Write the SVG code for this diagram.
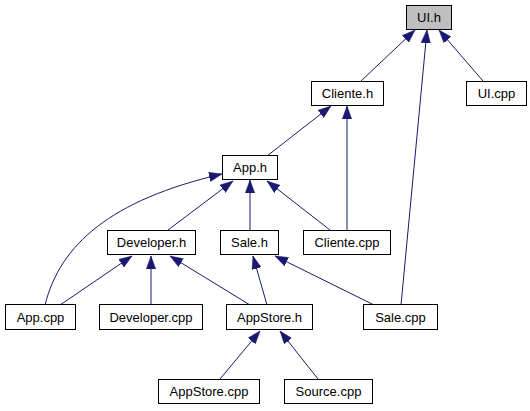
<svg xmlns="http://www.w3.org/2000/svg" width="530" height="411" viewBox="0 0 530 411">
<style>
.node rect{fill:#ffffff;stroke:#000000;stroke-width:1}
.node.hl rect{fill:#bfbfbf}
.node text{font-family:"Liberation Sans",Arial,sans-serif;font-size:13px;fill:#000000;text-anchor:middle}
.edges path{fill:none;stroke:#191970;stroke-width:1;marker-end:url(#arr)}
</style>
<defs>
<marker id="arr" markerUnits="userSpaceOnUse" markerWidth="14" markerHeight="10" viewBox="0 0 14 10" refX="13" refY="5" orient="auto">
<path d="M0,0.3 L13,5 L0,9.7 z" fill="#191970" stroke="#191970" stroke-width="0.5"/>
</marker>
</defs>
<rect width="530" height="411" fill="#ffffff"/>
<g class="edges">
<path d="M361,81 L415,30"/>
<path d="M483,81 L439,30"/>
<path d="M401,305 L427,30"/>
<path d="M267,156 L331,106"/>
<path d="M347,230 L347,106"/>
<path d="M168,230 L233,181"/>
<path d="M250,230 L250,180"/>
<path d="M330,230 L267,181"/>
<path d="M45,305 C60,245 110,200 222,174"/>
<path d="M60,305 L132,256"/>
<path d="M151,305 L151,256"/>
<path d="M250,305 L170,256"/>
<path d="M267,305 L253,256"/>
<path d="M374,305 L275,256"/>
<path d="M220,379 L260,331"/>
<path d="M318,379 L280,331"/>
</g>
<g id="node-ui-h" class="node hl"><rect x="406.5" y="5.5" width="45" height="24"/><text x="429" y="22">UI.h</text></g>
<g id="node-cliente-h" class="node"><rect x="311.5" y="81.5" width="72" height="24"/><text x="347.5" y="98">Cliente.h</text></g>
<g id="node-ui-cpp" class="node"><rect x="466.5" y="81.5" width="60" height="24"/><text x="496.5" y="98">UI.cpp</text></g>
<g id="node-app-h" class="node"><rect x="222.5" y="155.5" width="55" height="24"/><text x="250" y="172">App.h</text></g>
<g id="node-developer-h" class="node"><rect x="107.5" y="230.5" width="88" height="24"/><text x="151.5" y="247">Developer.h</text></g>
<g id="node-sale-h" class="node"><rect x="220.5" y="230.5" width="58" height="24"/><text x="249.5" y="247">Sale.h</text></g>
<g id="node-cliente-cpp" class="node"><rect x="303.5" y="230.5" width="87" height="24"/><text x="347" y="247">Cliente.cpp</text></g>
<g id="node-app-cpp" class="node"><rect x="5.5" y="304.5" width="70" height="25"/><text x="40.5" y="322">App.cpp</text></g>
<g id="node-developer-cpp" class="node"><rect x="99.5" y="304.5" width="103" height="25"/><text x="151" y="322">Developer.cpp</text></g>
<g id="node-appstore-h" class="node"><rect x="226.5" y="304.5" width="86" height="25"/><text x="269.5" y="322">AppStore.h</text></g>
<g id="node-sale-cpp" class="node"><rect x="363.5" y="304.5" width="74" height="25"/><text x="400.5" y="322">Sale.cpp</text></g>
<g id="node-appstore-cpp" class="node"><rect x="158.5" y="379.5" width="101" height="24"/><text x="209" y="396">AppStore.cpp</text></g>
<g id="node-source-cpp" class="node"><rect x="284.5" y="379.5" width="88" height="24"/><text x="328.5" y="396">Source.cpp</text></g>
</svg>
